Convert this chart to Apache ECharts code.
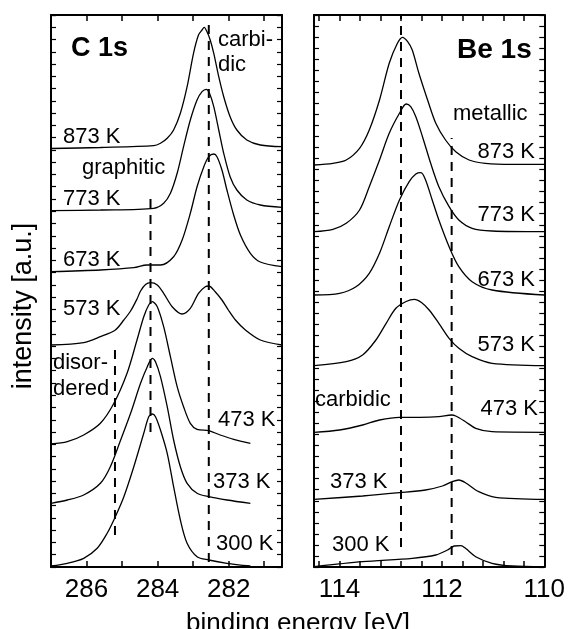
<!DOCTYPE html>
<html>
<head>
<meta charset="utf-8">
<script src="https://cdn.jsdelivr.net/npm/echarts@6/dist/echarts.min.js"></script>
<style>
html,body{margin:0;padding:0;background:#fff;}
#chart{width:568px;height:629px;}
</style>
</head>
<body>
<div id="chart"></div>
<script>
// ---------- data ----------
// C 1s spectra: [binding energy (eV), intensity (a.u., offset)]
const c873 = [[287,418.5],[285.61,419.5],[284.11,421.3],[283.92,423.7],[283.73,428.7],[283.55,437],[283.36,453.7],[283.17,480.3],[282.99,513.7],[282.85,532],[282.75,537],[282.69,539.7],[282.61,535.3],[282.52,527],[282.42,513.7],[282.28,490.3],[282.14,470.3],[281.96,450.3],[281.77,437],[281.49,427],[281.11,422],[280.5,420.3]];
const c773 = [[287,356.3],[285.61,357],[284.11,358.7],[283.83,363.7],[283.64,373.7],[283.45,393.7],[283.27,420.3],[283.08,447],[282.89,467],[282.75,475.3],[282.63,477.7],[282.54,473.7],[282.42,460.3],[282.28,437],[282.14,413.7],[281.96,390.3],[281.77,377],[281.49,367],[281.11,362],[280.5,359.7]];
const c673 = [[287,295.3],[285.61,297],[284.67,299.3],[284.3,302],[283.92,302],[283.55,310.3],[283.31,327],[283.08,353.7],[282.89,380.3],[282.7,400.3],[282.56,410.3],[282.42,413],[282.33,410.3],[282.19,397],[282.05,377],[281.86,352],[281.67,332],[281.39,313.7],[281.11,305],[280.5,300.3]];
const c573 = [[287,222],[286.08,224.3],[285.61,230.3],[285.19,237],[284.95,247],[284.76,256],[284.58,268],[284.48,276],[284.34,282.5],[284.2,284.3],[284.01,282],[283.83,273.7],[283.59,260.3],[283.31,253],[283.08,258.7],[282.85,273.7],[282.66,280.3],[282.56,281],[282.38,275.3],[282.19,267],[282.01,257],[281.81,247],[281.53,237],[281.11,227],[280.5,222]];
const c473 = [[287,123],[286.54,125.3],[286.08,132],[285.61,143.7],[285.23,163.7],[284.86,193.7],[284.58,227],[284.39,250.3],[284.25,262],[284.15,265.3],[284.01,260.3],[283.83,240.3],[283.64,210.3],[283.45,180.3],[283.27,160.3],[283.08,143.7],[282.89,137.7],[282.56,136.3],[282.24,132],[281.86,127.7],[281.39,123.7]];
const c373 = [[287,63.7],[286.54,67],[286.08,72],[285.61,83.7],[285.33,100.3],[285.04,127],[284.76,153.7],[284.48,183.7],[284.29,200.3],[284.15,208.7],[284.06,205.3],[283.92,190.3],[283.73,160.3],[283.55,127],[283.36,100.3],[283.17,83.7],[282.89,73.7],[282.56,70.3],[282.05,67],[281.39,63.7]];
const c300 = [[287,1],[286.54,3.7],[286.08,8.7],[285.7,18.7],[285.42,33.7],[285.19,50.3],[284.95,70.3],[284.67,100.3],[284.39,133.7],[284.25,150.3],[284.15,153],[284.06,150.3],[283.92,137],[283.73,113.7],[283.55,80.3],[283.36,47],[283.17,23.7],[282.89,10.3],[282.56,7],[282.05,3.7],[281.39,1]];

// Be 1s spectra
const b873 = [[114.5,402],[114.13,403.7],[113.87,407],[113.61,418.7],[113.42,437],[113.22,467],[113.03,503.7],[112.87,523.7],[112.77,529.7],[112.67,525.3],[112.58,517],[112.45,493.7],[112.28,467],[112.12,443.7],[111.93,427],[111.73,415.3],[111.47,407],[111.15,403.7],[110.63,402.7],[110,402.7]];
const b773 = [[114.5,335.3],[114.13,337.7],[113.87,343.7],[113.61,357],[113.42,380.3],[113.22,407],[113.03,433.7],[112.83,453.7],[112.7,463],[112.61,460.3],[112.51,450.3],[112.38,430.3],[112.22,403.7],[112.06,380.3],[111.86,360.3],[111.67,347],[111.41,338.7],[111.02,336],[110,335.3]];
const b673 = [[114.5,272],[114,273.7],[113.68,280.3],[113.42,293.7],[113.22,313.7],[113.03,340.3],[112.83,367],[112.64,385.3],[112.51,393],[112.41,394.3],[112.32,387],[112.19,367],[112.06,347],[111.86,320.3],[111.67,300.3],[111.41,285.3],[111.02,277],[110,272]];
const b573 = [[114.5,201.3],[113.87,205.3],[113.55,212],[113.29,227],[113.09,243.7],[112.9,258.7],[112.7,265.5],[112.54,267.7],[112.4,264.5],[112.25,257],[112.06,243.7],[111.86,228.7],[111.67,218.7],[111.41,210.3],[111.02,203.7],[110,201.3]];
const b473 = [[114.5,134.7],[114,137],[113.55,142],[113.22,147],[112.83,149.7],[112.44,149.7],[112.06,150.3],[111.81,152],[111.73,151],[111.54,145.3],[111.34,138.7],[111.02,135.3],[110,134.7]];
const b373 = [[114.5,67.7],[113.55,71],[112.83,74.3],[112.32,77],[111.99,81],[111.8,85.3],[111.67,87],[111.54,84.3],[111.28,75.3],[110.95,69.7],[110,67.7]];
const b300 = [[114.5,0.3],[113.55,5.3],[112.58,8.7],[112.12,12],[111.89,17],[111.76,21],[111.63,21.3],[111.54,18.7],[111.34,10.3],[111.02,3.7],[110.63,1],[110,0.3]];

// reference (dashed) energies with their vertical extent in intensity units
const cRefLines = [[282.56, 5, 542], [284.2, 135, 372], [285.2, 32, 220]];
const bRefLines = [[112.8, 20, 552], [111.81, 12, 429]];

// tick labels / tick values
const cTickLabels = [282, 284, 286];
const cTickValues = [281, 282, 283, 284, 285, 286];
const bTickLabels = [110, 112, 114];
const bTickValues = [110.4, 110.8, 111.2, 111.6, 112, 112.4, 112.8, 113.2, 113.6, 114, 114.4];

// ---------- chart ----------
const FONT = '"Liberation Sans", Arial, Helvetica, sans-serif';
const chart = echarts.init(document.getElementById('chart'), null, {renderer: 'canvas'});

const axisLineStyle = {show: true, onZero: false, lineStyle: {color: '#000', width: 2}};

function xAx(gridIndex, min, max, labels, ticks, pos, showLabels) {
  return {
    type: 'value', gridIndex, min, max, inverse: true, position: pos,
    axisLine: axisLineStyle,
    axisTick: {show: true, inside: true, length: 6, customValues: ticks, lineStyle: {color: '#000', width: 1.5}},
    axisLabel: {show: showLabels, customValues: labels, color: '#000', fontSize: 26, fontFamily: FONT, margin: 10},
    splitLine: {show: false}
  };
}
function yAx(gridIndex, interval, pos) {
  return {
    type: 'value', gridIndex, min: 0, max: 552, interval, position: pos,
    axisLine: axisLineStyle,
    axisTick: {show: true, inside: true, length: 5, lineStyle: {color: '#000', width: 1.2}},
    axisLabel: {show: false},
    splitLine: {show: false}
  };
}

const specStyle = {color: '#000', width: 1.3};
function spec(data, xi, yi) {
  return {type: 'line', data, xAxisIndex: xi, yAxisIndex: yi, showSymbol: false, symbol: 'none',
    smooth: 0.3, lineStyle: specStyle, silent: true, clip: true, animation: false};
}
function refLine(r, xi, yi) {
  return {type: 'line', data: [[r[0], r[1]], [r[0], r[2]]], xAxisIndex: xi, yAxisIndex: yi,
    symbol: 'none', lineStyle: {color: '#000', width: 2, type: [9, 7]}, silent: true, animation: false};
}

const series = [];
[c873, c773, c673, c573, c473, c373, c300].forEach(d => series.push(spec(d, 0, 0)));
[b873, b773, b673, b573, b473, b373, b300].forEach(d => series.push(spec(d, 2, 2)));
cRefLines.forEach(r => series.push(refLine(r, 0, 0)));
bRefLines.forEach(r => series.push(refLine(r, 2, 2)));

function txt(text, x, y, size, align, bold) {
  return {type: 'text', x, y, silent: true,
    style: {text, font: (bold ? 'bold ' : '') + size + 'px ' + FONT, fill: '#000', align: align || 'left', verticalAlign: 'middle'}};
}

const graphics = [
  txt('C 1s', 71, 49, 27, 'left', true),
  txt('carbi-', 218, 40, 22),
  txt('dic', 218, 65, 22),
  txt('873 K', 63, 137, 22),
  txt('graphitic', 82, 168, 22),
  txt('773 K', 63, 199, 22),
  txt('673 K', 63, 260, 22),
  txt('573 K', 63, 309, 22),
  txt('disor-', 53, 363, 22),
  txt('dered', 53, 389, 22),
  txt('473 K', 218, 420, 22),
  txt('373 K', 213, 482, 22),
  txt('300 K', 216, 544, 22),
  txt('Be 1s', 457, 50, 28, 'left', true),
  txt('metallic', 453, 114, 22),
  txt('873 K', 535, 152, 22, 'right'),
  txt('773 K', 535, 215, 22, 'right'),
  txt('673 K', 535, 280, 22, 'right'),
  txt('573 K', 535, 345, 22, 'right'),
  txt('carbidic', 315, 400, 22),
  txt('473 K', 538, 409, 22, 'right'),
  txt('373 K', 330, 482, 22),
  txt('300 K', 332, 545, 22),
  txt('binding energy [eV]', 298, 624, 26, 'center'),
  {type: 'text', x: 24, y: 306, rotation: Math.PI / 2, silent: true,
    style: {text: 'intensity [a.u.]', font: '27px ' + FONT, fill: '#000', align: 'center', verticalAlign: 'middle'}}
];

chart.setOption({
  animation: false,
  backgroundColor: '#fff',
  grid: [
    {left: 51, top: 15, width: 231, height: 552, containLabel: false},
    {left: 314, top: 15, width: 232, height: 552, containLabel: false}
  ],
  xAxis: [
    xAx(0, 280.5, 287, cTickLabels, cTickValues, 'bottom', true),
    xAx(0, 280.5, 287, cTickLabels, cTickValues, 'top', false),
    Object.assign(xAx(1, 110, 114.5, bTickLabels, bTickValues, 'bottom', true), {interval: 2}),
    Object.assign(xAx(1, 110, 114.5, bTickLabels, bTickValues, 'top', false), {interval: 2})
  ],
  yAxis: [
    yAx(0, 552 / 45, 'left'),
    yAx(0, 552 / 45, 'right'),
    yAx(1, 552 / 50, 'left'),
    yAx(1, 552 / 50, 'right')
  ],
  series,
  graphic: graphics
});
</script>
</body>
</html>
